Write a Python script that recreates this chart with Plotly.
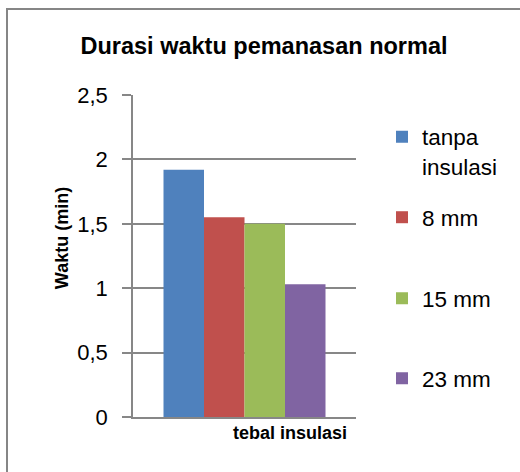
import plotly.graph_objects as go

series_names = ["tanpa<br>insulasi", "8 mm", "15 mm", "23 mm"]
values = [1.92, 1.55, 1.50, 1.03]
colors = ["#4F81BD", "#C0504D", "#9BBB59", "#8064A2"]
category = ["tebal insulasi"]
title_text = "Durasi waktu pemanasan normal"
y_title = "Waktu (min)"
x_title = "tebal insulasi"

W, H = 520, 472
L, R, T, B = 133, 356, 95, 416.7

def px(xp):
    return (xp - L) / (R - L)

def py(yp):
    return (B - yp) / (B - T)

FONT = "Liberation Sans"
GRID = "#878787"

fig = go.Figure()
legend_names = ["legend", "legend2", "legend3", "legend4"]
for name, v, c, lg in zip(series_names, values, colors, legend_names):
    fig.add_trace(go.Bar(x=category, y=[v], name=name, marker=dict(color=c, line=dict(width=0)),
                         legend=lg))

legend_centers = [135.5, 216, 297, 377]
legend_layout = {}
for lg, cy in zip(legend_names, legend_centers):
    legend_layout[lg] = dict(x=px(382), xanchor="left", y=py(cy - 20), yanchor="top",
                             font=dict(family=FONT, size=22.5, color="#000"),
                             valign="top", bgcolor="rgba(0,0,0,0)", borderwidth=0)

fig.update_layout(
    width=W, height=H,
    margin=dict(l=L, r=W - R, t=T, b=H - B, pad=0, autoexpand=False),
    paper_bgcolor="white", plot_bgcolor="white",
    barmode="group", bargap=0.2735, bargroupgap=0,
    separators=",.",
    showlegend=True,
    title=dict(text=title_text, x=264 / W, xanchor="center", xref="container",
               y=1 - 46 / H, yanchor="middle",
               font=dict(family=FONT, size=23.5, color="#000", weight="bold")),
    xaxis=dict(showticklabels=False, showgrid=False, showline=True, linecolor=GRID, linewidth=1.5,
               ticks="", range=[-0.5, 0.5], fixedrange=True),
    yaxis=dict(range=[0, 2.5], dtick=0.5, tick0=0, showgrid=True, gridcolor=GRID, gridwidth=1.5,
               showline=True, linecolor=GRID, linewidth=1.5, ticks="outside", ticklen=9,
               tickcolor=GRID, tickwidth=1.5, ticklabelstandoff=10,
               tickfont=dict(family=FONT, size=22, color="#000"), zeroline=False),
    annotations=[
        dict(text=x_title, xref="paper", yref="paper", x=px(290), y=py(433),
             xanchor="center", yanchor="middle", showarrow=False,
             font=dict(family=FONT, size=18, color="#000", weight="bold")),
        dict(text=y_title, xref="paper", yref="paper", x=px(62), y=py(238),
             xanchor="center", yanchor="middle", showarrow=False, textangle=-90,
             font=dict(family=FONT, size=18, color="#000", weight="bold")),
    ],
    shapes=[
        dict(type="rect", xref="paper", yref="paper", x0=px(7), y0=py(9), x1=px(540), y1=py(490),
             line=dict(color="#868686", width=2), fillcolor="rgba(0,0,0,0)", layer="below"),
    ],
    **legend_layout,
)

fig.write_html("out.html", config={"displayModeBar": False},
               post_script="document.body.style.margin='0';document.body.style.padding='0';")
